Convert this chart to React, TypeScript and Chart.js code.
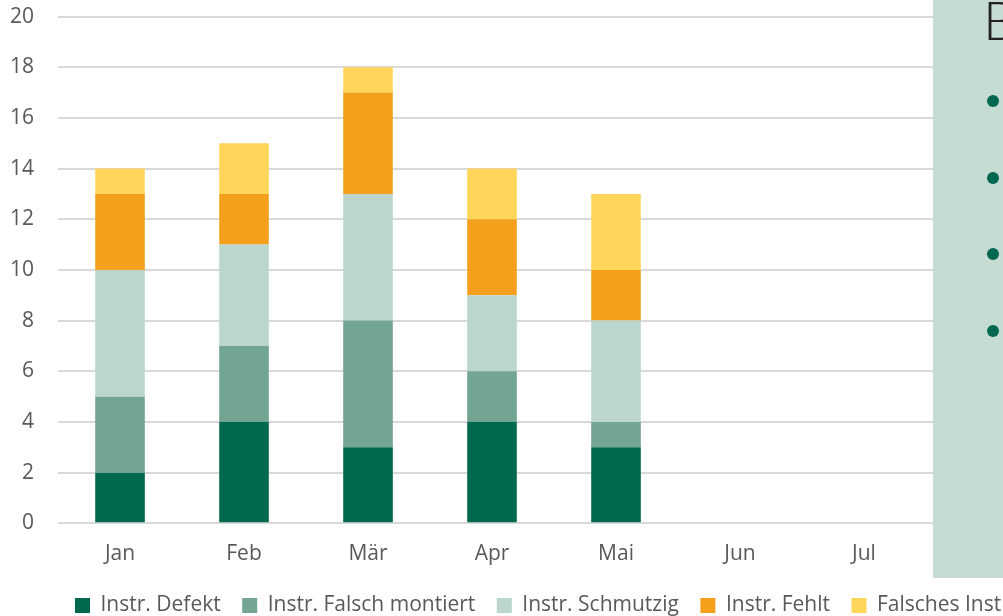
import React, { useEffect, useRef } from "react";
import { Chart, registerables } from "chart.js";

Chart.register(...registerables);

const categories = ["Jan", "Feb", "Mär", "Apr", "Mai", "Jun", "Jul", "Aug"];
const seriesNames = ["Instr. Defekt", "Instr. Falsch montiert", "Instr. Schmutzig", "Instr. Fehlt", "Falsches Instrument"];
const defekt = [2, 4, 3, 4, 3, null, null, null];
const falschMontiert = [3, 3, 5, 2, 1, null, null, null];
const schmutzig = [5, 4, 5, 3, 4, null, null, null];
const fehlt = [3, 2, 4, 3, 2, null, null, null];
const falschesInstr = [1, 2, 1, 2, 3, null, null, null];
const seriesColors = ["#00684f", "#72a592", "#bdd6cd", "#f5a01d", "#ffd55a"];
const yTicks = [0, 2, 4, 6, 8, 10, 12, 14, 16, 18, 20];

const FONT = "'Open Sans', 'Noto Sans', sans-serif";
const SHIFT_X = 14;
const SHIFT_Y = 20;
const LEGEND_SHIFT = 67.5;

const legendShift = {
  id: "legendShift",
  afterLayout(chart: any) {
    if (chart.legend) {
      chart.legend.left += LEGEND_SHIFT;
      chart.legend.right += LEGEND_SHIFT;
    }
  },
};

export default function App() {
  const ref = useRef<HTMLCanvasElement | null>(null);
  useEffect(() => {
    if (!ref.current) return;
    const values = [defekt, falschMontiert, schmutzig, fehlt, falschesInstr];
    const chart = new Chart(ref.current, {
      type: "bar",
      data: {
        labels: categories,
        datasets: values.map((v, i) => ({
          label: seriesNames[i],
          data: v,
          backgroundColor: seriesColors[i],
          borderWidth: 0,
          barPercentage: 0.4,
          categoryPercentage: 1,
        })),
      },
      plugins: [legendShift],
      options: {
        responsive: false,
        animation: false,
        layout: { padding: { left: 0, right: 0, top: 0, bottom: 0 } },
        plugins: {
          tooltip: { enabled: false },
          legend: {
            position: "bottom",
            align: "start",
            labels: {
              boxWidth: 15,
              boxHeight: 15,
              padding: 21.5,
              color: "#595959",
              font: { family: FONT, size: 21 },
            },
          },
        },
        scales: {
          x: {
            stacked: true,
            grid: { display: false, drawTicks: false },
            border: { display: false },
            ticks: { color: "#595959", font: { family: FONT, size: 21 }, padding: 18 },
            afterFit: (axis: any) => {
              axis.height -= 11;
            },
          },
          y: {
            stacked: true,
            min: 0,
            max: 20,
            afterBuildTicks: (axis: any) => {
              axis.ticks = yTicks.map((v) => ({ value: v }));
            },
            grid: { color: "#d9d9d9", lineWidth: 2, drawTicks: false },
            border: { display: false },
            ticks: { color: "#595959", font: { family: FONT, size: 21 }, padding: 24 },
          },
        },
      },
    });
    return () => chart.destroy();
  }, []);

  const bullets = [101, 178, 254, 331];
  return (
    <div style={{ position: "fixed", left: 0, top: 0, width: 1003, height: 616, overflow: "hidden", background: "#fff" }}>
      <canvas ref={ref} width={1064} height={646} style={{ position: "absolute", left: -SHIFT_X, top: -SHIFT_Y }} />
      <div style={{ position: "absolute", left: 933, top: 0, width: 120, height: 578, background: "#c6dcd3" }}>
        <div style={{ position: "absolute", left: 50, top: -12, fontFamily: "Lato, 'Open Sans', sans-serif", fontWeight: 300, fontSize: 54, color: "#222", lineHeight: 1.2 }}>B</div>
        {bullets.map((y) => (
          <div key={y} style={{ position: "absolute", left: 54, top: y - 6, width: 12, height: 12, borderRadius: 6, background: "#00684f" }} />
        ))}
      </div>
    </div>
  );
}
